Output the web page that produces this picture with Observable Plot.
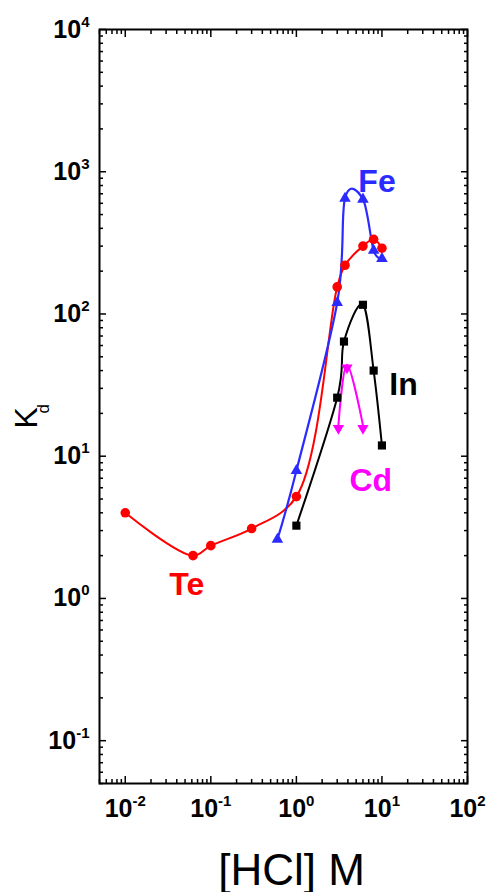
<!DOCTYPE html>
<html>
<head>
<meta charset="utf-8">
<script src="https://cdn.jsdelivr.net/npm/d3@7"></script>
<script src="https://cdn.jsdelivr.net/npm/@observablehq/plot@0.6"></script>
<style>
  body { margin: 0; background: #fff; }
  svg { display: block; }
</style>
</head>
<body>
<div id="chart"></div>
<script>
// Distribution coefficients (Kd) versus HCl molarity
const teHCl = [0.01, 0.062, 0.1, 0.3, 1, 3, 3.7, 6, 8, 10];
const teKd  = [4.0, 2.0, 2.35, 3.1, 5.2, 155, 220, 300, 335, 290];

const feHCl = [0.6, 1, 3, 3.7, 6, 8, 10];
const feKd  = [2.6, 7.9, 120, 650, 640, 280, 245];

const inHCl = [1, 3, 3.6, 6, 8, 10];
const inKd  = [3.25, 25.8, 64, 116, 40, 11.9];

// Cd values are upper limits (drawn as downward arrowheads)
const cdHCl = [3.1, 3.9, 6];
const cdKd  = [16.5, 44, 16.5];

// Element labels placed beside their curves
const labelText  = ["Fe", "In", "Cd", "Te"];
const labelHCl   = [5.3, 12.2, 4.17, 0.0327];
const labelKd    = [718, 27, 5.73, 1.05];
const labelColor = ["#2b2bff", "#000000", "#ff00ff", "#ff0000"];

// Axis ticks
const xMajor = [0.01, 0.1, 1, 10, 100];
const yMajor = [0.1, 1, 10, 100, 1000, 10000];

const minorOf = (lo, hi) => {
  const out = [];
  for (let e = lo; e < hi; e++) for (let m = 2; m <= 9; m++) out.push(m * 10 ** e);
  return out;
};
const xMinor = minorOf(-3, 2).filter(v => v >= 0.005 && v <= 100);
const yMinor = minorOf(-2, 4).filter(v => v >= 0.05 && v <= 10000);

const rows = (xs, ys) => xs.map((x, i) => ({x, y: ys[i]}));
const te = rows(teHCl, teKd);
const fe = rows(feHCl, feKd);
const ind = rows(inHCl, inKd);
const cd = rows(cdHCl, cdKd);
const labels = labelText.map((t, i) => ({t, x: labelHCl[i], y: labelKd[i], c: labelColor[i]}));

const expFmt = d => "10^" + Math.round(Math.log10(d));
const blank = () => "";
const FONT = "'Liberation Sans', Arial, Helvetica, sans-serif";
const TICK_FONT = 25, SUP_FONT = 15;

// uniform Catmull-Rom spline through the points
const smooth = d3.curveCardinal.tension(0);

const tickAxes = [];
for (const anchor of ["bottom", "top"]) {
  tickAxes.push(Plot.axisX({anchor, ticks: xMajor, tickSize: -7, tickFormat: blank, label: null, strokeWidth: 1.5}));
  tickAxes.push(Plot.axisX({anchor, ticks: xMinor, tickSize: -4, tickFormat: blank, label: null, strokeWidth: 1.5}));
}
for (const anchor of ["left", "right"]) {
  tickAxes.push(Plot.axisY({anchor, ticks: yMajor, tickSize: -7, tickFormat: blank, label: null, strokeWidth: 1.5}));
  tickAxes.push(Plot.axisY({anchor, ticks: yMinor, tickSize: -4, tickFormat: blank, label: null, strokeWidth: 1.5}));
}

const chart = Plot.plot({
  width: 491,
  height: 892,
  marginLeft: 99,
  marginRight: 24,
  marginTop: 29,
  marginBottom: 109,
  style: {fontFamily: FONT, background: "#fff", color: "#000"},
  x: {type: "log", domain: [0.005, 100]},
  y: {type: "log", domain: [0.05, 10000]},
  marks: [
    ...tickAxes,
    Plot.axisX({anchor: "bottom", ticks: xMajor, tickSize: 0, tickPadding: 16, tickFormat: expFmt, label: null,
      fontSize: TICK_FONT, fontWeight: "bold"}),
    Plot.axisY({anchor: "left", ticks: yMajor, tickSize: 0, tickPadding: 10, tickFormat: expFmt, label: null,
      fontSize: TICK_FONT, fontWeight: "bold"}),

    // fitted curves
    Plot.line(te, {x: "x", y: "y", stroke: "#ff0000", strokeWidth: 2, curve: "catmull-rom"}),
    Plot.line(fe, {x: "x", y: "y", stroke: "#2b2bff", strokeWidth: 2.2, curve: smooth}),
    Plot.line(ind, {x: "x", y: "y", stroke: "#000000", strokeWidth: 2, curve: smooth}),
    Plot.line(cd, {x: "x", y: "y", stroke: "#ff00ff", strokeWidth: 2, curve: smooth}),

    // measured points
    Plot.dot(te, {x: "x", y: "y", r: 4.8, fill: "#ff0000", symbol: "circle"}),
    Plot.dot(fe, {x: "x", y: "y", r: 4.3, fill: "#2b2bff", symbol: "triangle"}),
    Plot.dot(ind, {x: "x", y: "y", r: 4.6, fill: "#000000", symbol: "square"}),
    Plot.dot(cd, {x: "x", y: "y", dy: 3, r: 4.2, fill: "#ff00ff", symbol: "triangle", rotate: 180}),

    // element labels
    Plot.text(labels, {x: "x", y: "y", text: "t", fill: "c", textAnchor: "start", lineAnchor: "bottom",
      fontSize: 32, fontWeight: "bold"}),

    // axis titles
    Plot.text(["[HCl] M"], {frameAnchor: "bottom", dx: 8, dy: 101, lineAnchor: "bottom", fontSize: 44}),
    Plot.text(["K"], {frameAnchor: "left", dx: -63, dy: 22, rotate: -90, lineAnchor: "bottom", fontSize: 32}),
    Plot.text(["d"], {frameAnchor: "left", dx: -51, dy: 7, rotate: -90, lineAnchor: "bottom", fontSize: 17}),

    Plot.frame({stroke: "#000", strokeWidth: 2})
  ]
});

// Render the "10^n" tick labels with superscript exponents
const ns = "http://www.w3.org/2000/svg";
chart.querySelectorAll('g[aria-label="x-axis tick label"] text, g[aria-label="y-axis tick label"] text').forEach(t => {
  const parts = t.textContent.split("^");
  if (parts.length < 2) return;
  t.textContent = "";
  t.style.fontSize = TICK_FONT + "px";
  t.style.fontWeight = "bold";
  const base = document.createElementNS(ns, "tspan");
  base.textContent = parts[0];
  const sup = document.createElementNS(ns, "tspan");
  sup.setAttribute("dy", "-11");
  sup.style.fontSize = SUP_FONT + "px";
  sup.textContent = parts[1];
  t.append(base, sup);
});

document.getElementById("chart").append(chart);
</script>
</body>
</html>
